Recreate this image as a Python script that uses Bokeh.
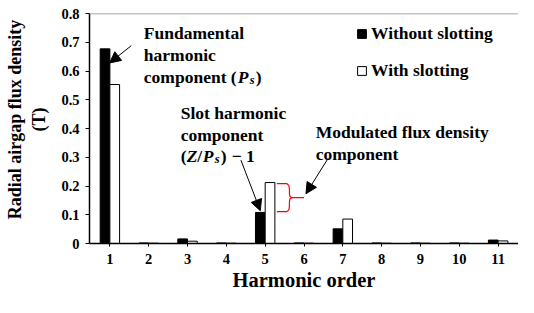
from bokeh.plotting import figure
from bokeh.models import (ColumnDataSource, FixedTicker, Legend, LegendItem, Label,
                          Arrow, NormalHead, Span, Range1d)
from bokeh.transform import dodge
from bokeh.embed import file_html
from bokeh.resources import INLINE

# ---- data ----
harmonics = [1, 2, 3, 4, 5, 6, 7, 8, 9, 10, 11]
without_slotting = [0.677, 0.002, 0.016, 0.002, 0.108, 0.002, 0.051, 0.002, 0.002, 0.002, 0.012]
with_slotting = [0.553, 0.001, 0.008, 0.001, 0.212, 0.001, 0.085, 0.001, 0.001, 0.001, 0.009]
y_ticks = [0, 0.1, 0.2, 0.3, 0.4, 0.5, 0.6, 0.7, 0.8]
y_tick_labels = ["0", "0.1", "0.2", "0.3", "0.4", "0.5", "0.6", "0.7", "0.8"]

FONT = "Liberation Serif"
NB = "\u00a0" * 4

src = ColumnDataSource(dict(x=harmonics, a=without_slotting, b=with_slotting))

p = figure(width=518, height=297, output_backend="svg", toolbar_location=None,
           x_range=Range1d(0.475, 11.525), y_range=Range1d(0, 0.8),
           min_border_left=89, min_border_right=0, min_border_top=13, min_border_bottom=54)
p.outline_line_color = None
p.grid.visible = False
p.background_fill_color = "white"

r1 = p.vbar(x=dodge("x", -0.125, range=p.x_range), top="a", width=0.25, source=src,
            fill_color="black", line_color="black", line_width=1)
r2 = p.vbar(x=dodge("x", 0.125, range=p.x_range), top="b", width=0.25, source=src,
            fill_color="white", line_color="black", line_width=1)

# top frame line
p.add_layout(Span(location=0.8, dimension="width", line_color="#8a8a8a", line_width=1.5))

# axes
p.xaxis.ticker = FixedTicker(ticks=harmonics)
p.yaxis.ticker = FixedTicker(ticks=y_ticks)
p.yaxis.major_label_overrides = {t: l for t, l in zip(y_ticks, y_tick_labels)}
for ax in (p.xaxis[0], p.yaxis[0]):
    ax.axis_line_color = "black"
    ax.axis_line_width = 1.5
    ax.major_tick_line_color = "black"
    ax.minor_tick_line_color = None
    ax.major_tick_in = 0
    ax.major_label_text_font = FONT
    ax.major_label_text_font_style = "bold"
    ax.major_label_text_font_size = "14.5px"
    ax.major_label_text_color = "black"
    ax.axis_label_text_font = FONT
    ax.axis_label_text_font_style = "bold"
    ax.axis_label_text_color = "black"
p.xaxis.major_tick_out = 3
p.yaxis.major_tick_out = 4
p.xaxis.major_label_standoff = 7
p.yaxis.major_label_standoff = 6
p.xaxis.axis_label = "Harmonic order"
p.xaxis.axis_label_text_font_size = "20.5px"
p.xaxis.axis_label_standoff = 2
p.yaxis.axis_label = NB + "Radial airgap flux density\n" + NB + "(T)"
p.yaxis.axis_label_text_font_size = "18px"
p.yaxis.axis_label_standoff = 9

# legend
legend = Legend(items=[LegendItem(label="Without slotting", renderers=[r1]),
                       LegendItem(label="With slotting", renderers=[r2])],
                location=(267, 162), orientation="vertical",
                border_line_color=None, background_fill_alpha=0,
                label_text_font=FONT, label_text_font_style="bold",
                label_text_color="black",
                label_text_font_size="17.5px", glyph_width=11, glyph_height=11,
                label_standoff=4, label_height=19, spacing=16, padding=0, margin=0)
p.add_layout(legend)


def txt(x, y, s, dx=0, dy=0, size="17.5px", style="bold"):
    p.add_layout(Label(x=x, y=y, text=s, x_offset=dx, y_offset=dy, text_font=FONT,
                       text_font_style=style, text_font_size=size, text_color="black",
                       text_baseline="alphabetic", text_align="left"))


# Fundamental annotation
txt(1.875, 0.733, "Fundamental")
txt(1.875, 0.657, "harmonic")
txt(1.875, 0.580, "component (")
txt(1.875, 0.580, "P", dx=94, style="bold italic")
txt(1.875, 0.580, "s", dx=106, dy=-3, size="12.5px", style="bold italic")
txt(1.875, 0.580, ")", dx=112)

# Slot harmonic annotation
txt(2.825, 0.453, "Slot harmonic")
txt(2.825, 0.378, "component")
txt(2.825, 0.303, "(")
txt(2.825, 0.303, "Z", dx=6, style="bold italic")
txt(2.825, 0.303, "/", dx=16.5)
txt(2.825, 0.303, "P", dx=22, style="bold italic")
txt(2.825, 0.303, "s", dx=34, dy=-3, size="12.5px", style="bold italic")
txt(2.825, 0.303, ")", dx=40)
txt(2.825, 0.303, "\u2212 1", dx=51)

# Modulated annotation
txt(6.3, 0.388, "Modulated flux density")
txt(6.3, 0.313, "component")

# arrows
for (xs, ys, xe, ye) in [(1.55, 0.688, 0.993, 0.628),
                         (4.375, 0.290, 4.875, 0.114),
                         (6.625, 0.297, 6.05, 0.173)]:
    p.add_layout(Arrow(end=NormalHead(size=11, fill_color="black", line_color="black"),
                       x_start=xs, y_start=ys, x_end=xe, y_end=ye,
                       line_color="black", line_width=1))

# red brace between the two harmonic-5 bars
top = with_slotting[4] - 0.004
bot = without_slotting[4] + 0.003
mid = (top + bot) / 2
bx = [5.3, 5.56, 5.61, 5.625, 5.625, 5.64, 5.69, 6.0, 5.69, 5.64, 5.625, 5.625, 5.61, 5.56, 5.3]
by = [top, top, top - 0.006, top - 0.02, mid + 0.012, mid + 0.004, mid, mid, mid, mid - 0.004,
      mid - 0.012, bot + 0.02, bot + 0.006, bot, bot]
p.line(bx, by, line_color="red", line_width=1.2)

open("out.html", "w").write(file_html(p, INLINE))
